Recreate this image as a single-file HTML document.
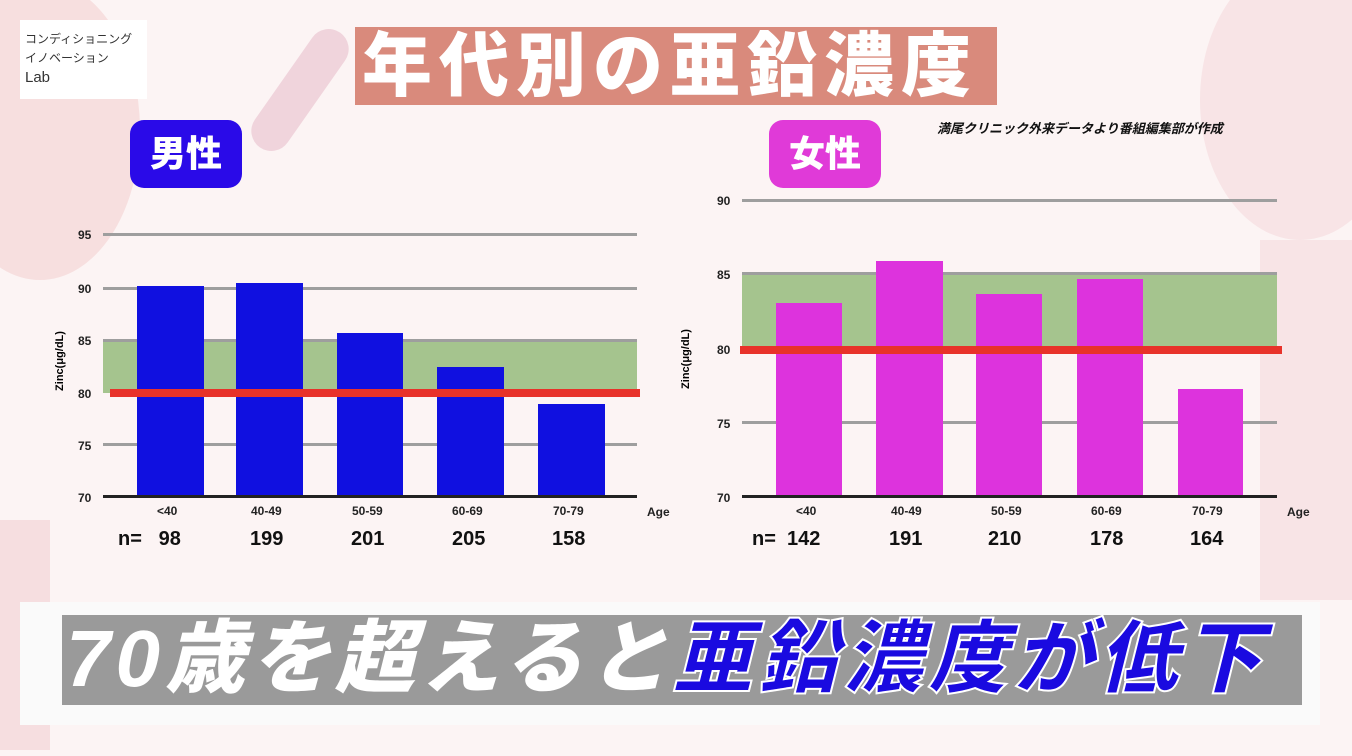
<!DOCTYPE html><html><head><meta charset="utf-8"><style>
body{margin:0;width:1352px;height:756px;overflow:hidden;background:#fcf4f4;font-family:"Liberation Sans","Noto Sans CJK JP",sans-serif;position:relative}
.a{position:absolute}
.g{position:absolute;height:3px;background:#9e9e9e}
.t{position:absolute;font-size:12px;font-weight:bold;color:#222}
.b{position:absolute}
.n{position:absolute;font-size:20px;font-weight:bold;color:#111}
</style></head><body>
<div class="a" style="left:-60px;top:-20px;width:200px;height:300px;background:#f3d0d0;border-radius:50%;opacity:.6"></div>
<div class="a" style="left:1200px;top:-40px;width:200px;height:280px;background:#f5d8dc;border-radius:50%;opacity:.6"></div>
<div class="a" style="left:1260px;top:240px;width:100px;height:360px;background:#f3d4d8;opacity:.5"></div>
<div class="a" style="left:0;top:520px;width:50px;height:230px;background:#f0c8cc;opacity:.5"></div>
<div class="a" style="left:280px;top:20px;width:40px;height:140px;background:#f0d4dc;transform:rotate(35deg);border-radius:20px"></div>
<div class="a" style="left:20px;top:20px;width:127px;height:79px;background:#fff"></div>
<div class="a" style="left:25px;top:30px;font-size:12px;line-height:19px;color:#333">コンディショニング<br>イノベーション<br><span style="font-size:15px">Lab</span></div>
<div class="a" style="left:355px;top:27px;width:642px;height:78px;background:#d98a7c"></div>
<div class="a" style="left:362px;top:24px;font-size:70px;font-weight:900;color:#fff;letter-spacing:7px;line-height:84px;white-space:nowrap">年代別の亜鉛濃度</div>
<div class="a" style="left:937px;top:118px;font-size:13px;font-weight:bold;font-style:italic;color:#111">満尾クリニック外来データより番組編集部が作成</div>
<div class="a" style="left:130px;top:120px;width:112px;height:68px;background:#2a0ae8;border-radius:14px;color:#fff;font-size:36px;font-weight:900;text-align:center;line-height:68px">男性</div>
<div class="a" style="left:769px;top:120px;width:112px;height:68px;background:#e03ad8;border-radius:14px;color:#fff;font-size:36px;font-weight:900;text-align:center;line-height:68px">女性</div>
<!-- male -->
<div class="a" style="left:103px;top:341px;width:534px;height:52px;background:#a5c48e"></div>
<div class="g" style="left:103px;top:233px;width:534px"></div>
<div class="g" style="left:103px;top:287px;width:534px"></div>
<div class="g" style="left:103px;top:339px;width:534px"></div>
<div class="g" style="left:103px;top:443px;width:534px"></div>
<div class="t" style="left:78px;top:228px">95</div><div class="t" style="left:78px;top:282px">90</div><div class="t" style="left:78px;top:334px">85</div><div class="t" style="left:78px;top:387px">80</div><div class="t" style="left:78px;top:439px">75</div><div class="t" style="left:78px;top:491px">70</div>
<div class="b" style="left:137px;top:286px;width:67px;height:211px;background:#1010e0"></div>
<div class="b" style="left:236px;top:283px;width:67px;height:214px;background:#1010e0"></div>
<div class="b" style="left:337px;top:333px;width:66px;height:164px;background:#1010e0"></div>
<div class="b" style="left:437px;top:367px;width:67px;height:130px;background:#1010e0"></div>
<div class="b" style="left:538px;top:404px;width:67px;height:93px;background:#1010e0"></div>
<div class="a" style="left:110px;top:389px;width:530px;height:8px;background:#e8322a"></div>
<div class="a" style="left:103px;top:495px;width:534px;height:3px;background:#222"></div>
<div class="a" style="left:30px;top:355px;font-size:11px;font-weight:bold;transform:rotate(-90deg);transform-origin:center;width:60px;text-align:center">Zinc(μg/dL)</div>
<div class="t" style="left:157px;top:504px">&lt;40</div><div class="t" style="left:251px;top:504px">40-49</div><div class="t" style="left:352px;top:504px">50-59</div><div class="t" style="left:452px;top:504px">60-69</div><div class="t" style="left:553px;top:504px">70-79</div><div class="t" style="left:647px;top:505px">Age</div>
<div class="n" style="left:118px;top:528px">n=&nbsp;&nbsp; 98</div><div class="n" style="left:250px;top:528px">199</div><div class="n" style="left:351px;top:528px">201</div><div class="n" style="left:452px;top:528px">205</div><div class="n" style="left:552px;top:528px">158</div>
<!-- female -->
<div class="a" style="left:742px;top:273px;width:535px;height:76px;background:#a5c48e"></div>
<div class="g" style="left:742px;top:199px;width:535px"></div>
<div class="g" style="left:742px;top:272px;width:535px"></div>
<div class="g" style="left:742px;top:421px;width:535px"></div>
<div class="t" style="left:717px;top:194px">90</div><div class="t" style="left:717px;top:268px">85</div><div class="t" style="left:717px;top:343px">80</div><div class="t" style="left:717px;top:417px">75</div><div class="t" style="left:717px;top:491px">70</div>
<div class="b" style="left:776px;top:303px;width:66px;height:194px;background:#dd33dd"></div>
<div class="b" style="left:876px;top:261px;width:67px;height:236px;background:#dd33dd"></div>
<div class="b" style="left:976px;top:294px;width:66px;height:203px;background:#dd33dd"></div>
<div class="b" style="left:1077px;top:279px;width:66px;height:218px;background:#dd33dd"></div>
<div class="b" style="left:1178px;top:389px;width:65px;height:108px;background:#dd33dd"></div>
<div class="a" style="left:740px;top:346px;width:542px;height:8px;background:#e8322a"></div>
<div class="a" style="left:742px;top:495px;width:535px;height:3px;background:#222"></div>
<div class="a" style="left:656px;top:353px;font-size:11px;font-weight:bold;transform:rotate(-90deg);width:60px;text-align:center">Zinc(μg/dL)</div>
<div class="t" style="left:796px;top:504px">&lt;40</div><div class="t" style="left:891px;top:504px">40-49</div><div class="t" style="left:991px;top:504px">50-59</div><div class="t" style="left:1091px;top:504px">60-69</div><div class="t" style="left:1192px;top:504px">70-79</div><div class="t" style="left:1287px;top:505px">Age</div>
<div class="n" style="left:752px;top:528px">n=&nbsp; 142</div><div class="n" style="left:889px;top:528px">191</div><div class="n" style="left:988px;top:528px">210</div><div class="n" style="left:1090px;top:528px">178</div><div class="n" style="left:1190px;top:528px">164</div>
<!-- bottom -->
<div class="a" style="left:20px;top:602px;width:1300px;height:123px;background:#fafafa"></div>
<div class="a" style="left:62px;top:615px;width:1240px;height:90px;background:#9a9a9a"></div>
<div class="a" style="left:66px;top:612px;font-size:80px;font-weight:900;font-style:italic;line-height:94px;white-space:nowrap;letter-spacing:5px"><span style="color:#fff">70歳を超えると</span><span style="color:#1a0ae0;-webkit-text-stroke:2px #fff">亜鉛濃度が低下</span></div>
</body></html>
